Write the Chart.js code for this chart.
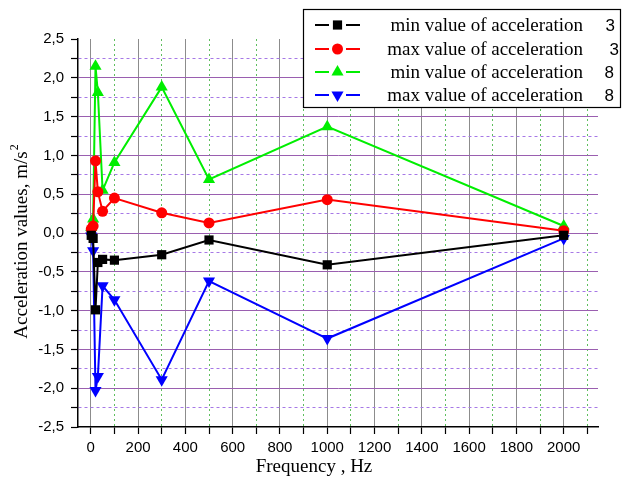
<!DOCTYPE html>
<html>
<head>
<meta charset="utf-8">
<script src="https://cdn.jsdelivr.net/npm/chart.js@4/dist/chart.umd.min.js"></script>
<style>
  html, body { margin: 0; padding: 0; background: #ffffff; }
  #wrap { position: relative; width: 624px; height: 488px; }
</style>
</head>
<body>
<div id="wrap"><canvas id="c" width="624" height="488"></canvas></div>
<script>
// ---- data ----
const frequencies = [2, 10, 20, 30, 50, 100, 300, 500, 1000, 2000];
const minAcc3 = [-0.03, -0.07, -0.99, -0.38, -0.34, -0.35, -0.28, -0.09, -0.41, -0.03];
const maxAcc3 = [0.05, 0.09, 0.93, 0.53, 0.28, 0.45, 0.26, 0.13, 0.43, 0.03];
const minAcc8 = [0.07, 0.18, 2.15, 1.81, 0.55, 0.91, 1.88, 0.69, 1.37, 0.09];
const maxAcc8 = [-0.04, -0.23, -2.03, -1.85, -0.68, -0.86, -1.89, -0.62, -1.36, -0.07];

const seriesNames = ['min value of acceleration', 'max value of acceleration', 'min value of acceleration', 'max value of acceleration'];
const seriesSuffix = ['3', '3', '8', '8'];
const xTickValues = [0,100,200,300,400,500,600,700,800,900,1000,1100,1200,1300,1400,1500,1600,1700,1800,1900,2000,2100];
const yTickValues = [-2.5,-2.25,-2,-1.75,-1.5,-1.25,-1,-0.75,-0.5,-0.25,0,0.25,0.5,0.75,1,1.25,1.5,1.75,2,2.25,2.5];
const xTitle = 'Frequency , Hz';
const yTitle = 'Acceleration values, m/s';
const yTitleSup = '2';

// ---- styling ----
const colors = ['#000000', '#ff0000', '#00ee00', '#0000ff'];
const shapes = ['rect', 'circle', 'triangle', 'triangle'];
const rotations = [0, 0, 0, 180];
const radii = [6.5, 5.5, 7, 7];

function pts(ys) { return frequencies.map((f, i) => ({ x: f, y: ys[i] })); }
const seriesValues = [minAcc3, maxAcc3, minAcc8, maxAcc8];

const datasets = seriesValues.map((vals, i) => ({
  label: seriesNames[i] + ' ' + seriesSuffix[i],
  data: pts(vals),
  showLine: true,
  borderColor: colors[i],
  backgroundColor: colors[i],
  borderWidth: 2,
  pointStyle: shapes[i],
  pointRotation: rotations[i],
  pointRadius: radii[i],
  pointBorderWidth: 0,
  pointBackgroundColor: colors[i],
  tension: 0
}));

const isMul = (v, s) => Math.abs(v / s - Math.round(v / s)) < 1e-6;
const fmtY = v => (Math.abs(v) < 1e-9 ? 0 : v).toFixed(1).replace('.', ',');

function drawMarker(ctx, shape, rot, x, y, r, color) {
  ctx.save();
  ctx.fillStyle = color;
  ctx.beginPath();
  if (shape === 'rect') {
    const s = r * Math.SQRT1_2;
    ctx.rect(x - s, y - s, 2 * s, 2 * s);
  } else if (shape === 'circle') {
    ctx.arc(x, y, r, 0, Math.PI * 2);
  } else {
    const dir = rot === 180 ? -1 : 1;
    const a = r * Math.sqrt(3) / 2;
    ctx.moveTo(x, y - dir * r);
    ctx.lineTo(x - a, y + dir * r / 2);
    ctx.lineTo(x + a, y + dir * r / 2);
    ctx.closePath();
  }
  ctx.fill();
  ctx.restore();
}

const overlay = {
  id: 'overlay',
  afterDraw(chart) {
    const ctx = chart.ctx;
    ctx.save();
    // axis titles
    ctx.fillStyle = '#000';
    ctx.font = '19px "Liberation Serif", "Times New Roman", serif';
    ctx.textBaseline = 'alphabetic';
    ctx.textAlign = 'left';
    const xw = ctx.measureText(xTitle).width;
    ctx.fillText(xTitle, 314 - xw / 2, 472);

    ctx.save();
    ctx.translate(27, 242);
    ctx.rotate(-Math.PI / 2);
    const w1 = ctx.measureText(yTitle).width;
    ctx.font = '12px "Liberation Serif", "Times New Roman", serif';
    const w2 = ctx.measureText(yTitleSup).width;
    const start = -(w1 + w2) / 2;
    ctx.font = '19px "Liberation Serif", "Times New Roman", serif';
    ctx.fillText(yTitle, start, 0);
    ctx.font = '12px "Liberation Serif", "Times New Roman", serif';
    ctx.fillText(yTitleSup, start + w1 + 1, -9);
    ctx.restore();

    // legend box
    const bx = 303.5, by = 9.5, bw = 317, bh = 98;
    ctx.fillStyle = '#fff';
    ctx.fillRect(bx, by, bw, bh);
    ctx.strokeStyle = '#000';
    ctx.lineWidth = 1.2;
    ctx.strokeRect(bx, by, bw, bh);
    const rowsY = [25, 49, 72, 95];
    const numRight = [615, 619, 614, 614];
    for (let i = 0; i < 4; i++) {
      const y = rowsY[i];
      ctx.strokeStyle = colors[i];
      ctx.lineWidth = 2;
      ctx.beginPath();
      ctx.moveTo(315, y); ctx.lineTo(329, y);
      ctx.moveTo(346, y); ctx.lineTo(360, y);
      ctx.stroke();
      drawMarker(ctx, shapes[i], rotations[i], 337.5, y, radii[i], colors[i]);
      ctx.fillStyle = '#000';
      ctx.font = '19px "Liberation Serif", "Times New Roman", serif';
      ctx.textAlign = 'right';
      ctx.textBaseline = 'middle';
      ctx.fillText(seriesNames[i], 583, y + 1);
      ctx.textAlign = 'right';
      ctx.font = '17px "Liberation Sans", Arial, sans-serif';
      ctx.fillText(seriesSuffix[i], numRight[i], y + 1);
    }
    ctx.restore();
  }
};

new Chart(document.getElementById('c'), {
  type: 'scatter',
  data: { datasets },
  plugins: [overlay],
  options: {
    responsive: false,
    animation: false,
    devicePixelRatio: 1,
    layout: { padding: { top: 39, right: 26, left: 0, bottom: 0 } },
    plugins: { legend: { display: false }, tooltip: { enabled: false } },
    scales: {
      x: {
        type: 'linear',
        min: -54,
        max: 2145,
        afterBuildTicks: axis => { axis.ticks = xTickValues.map(v => ({ value: v })); },
        afterFit: scale => { scale.height = 61; },
        ticks: {
          autoSkip: false,
          maxRotation: 0,
          padding: 5,
          color: '#000',
          font: { family: '"Liberation Sans", Arial, sans-serif', size: 15 },
          callback: v => (isMul(v, 200) ? String(v) : '')
        },
        grid: {
          drawTicks: true,
          tickLength: 7,
          tickColor: '#000',
          tickWidth: 1.2,
          lineWidth: 1,
          color: c => (c.tick && isMul(c.tick.value, 200)) ? '#8c8c8c' : '#5fbf5f'
        },
        border: {
          display: true,
          color: '#000',
          width: 1.5,
          dash: c => (c.tick && !isMul(c.tick.value, 200)) ? [2, 3] : []
        }
      },
      y: {
        type: 'linear',
        min: -2.5,
        max: 2.5,
        afterBuildTicks: axis => { axis.ticks = yTickValues.map(v => ({ value: v })); },
        afterFit: scale => { scale.width = 78; },
        ticks: {
          autoSkip: false,
          padding: 7,
          color: '#000',
          font: { family: '"Liberation Sans", Arial, sans-serif', size: 15 },
          callback: v => (isMul(v, 0.5) ? fmtY(v) : '')
        },
        grid: {
          drawTicks: true,
          tickLength: 7,
          tickColor: '#000',
          tickWidth: 1.2,
          lineWidth: 1,
          color: c => {
            if (!c.tick) return '#000';
            const v = c.tick.value;
            if (Math.abs(Math.abs(v) - 2.5) < 1e-6) return 'rgba(0,0,0,0)';
            return isMul(v, 0.5) ? '#9a5fb0' : '#a678e6';
          }
        },
        border: {
          display: true,
          color: '#000',
          width: 1.5,
          dash: c => (c.tick && !isMul(c.tick.value, 0.5)) ? [3, 3] : []
        }
      }
    }
  }
});
</script>
</body>
</html>
